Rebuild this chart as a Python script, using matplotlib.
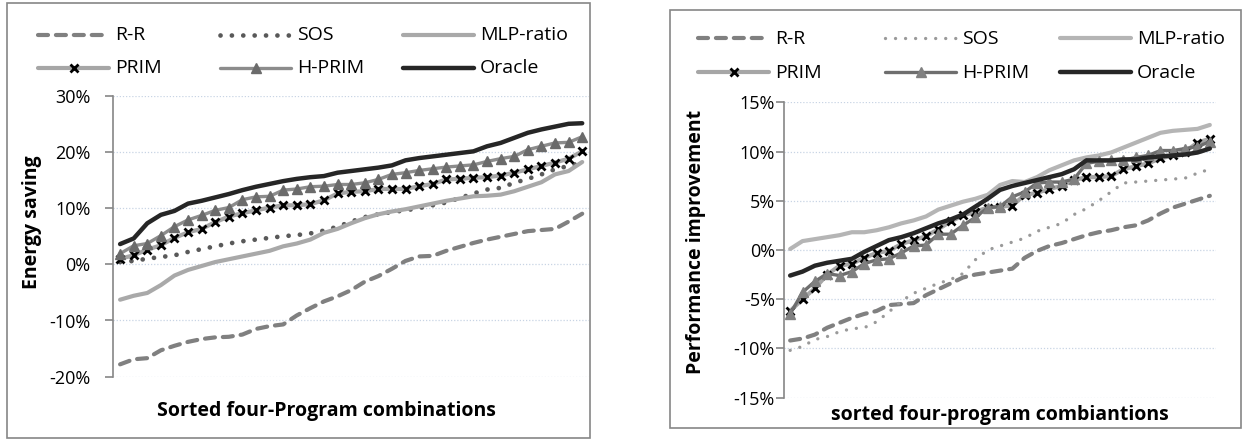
import matplotlib
matplotlib.use("Agg")
import matplotlib.pyplot as plt
from matplotlib.lines import Line2D
from matplotlib.patches import Rectangle
import numpy as np

plt.rcParams['font.family'] = ['Open Sans', 'DejaVu Sans']

# ---------------- data ----------------
series_names = ["R-R", "SOS", "MLP-ratio", "PRIM", "H-PRIM", "Oracle"]

# Left panel: energy saving (%)
rr_e = [-17.8, -16.9, -16.7, -15.3, -14.5, -13.8, -13.3, -13.0, -12.9, -12.5, -11.5, -11.0, -10.7, -9.1, -7.8,
        -6.6, -5.7, -4.6, -3.1, -2.1, -0.8, 0.6, 1.4, 1.5, 2.4, 3.1, 3.8, 4.4, 4.9, 5.4, 5.9, 6.1, 6.3, 7.6, 9.0]
sos_e = [0.4, 0.6, 1.0, 1.3, 1.6, 2.2, 2.7, 3.2, 3.7, 4.1, 4.4, 4.7, 5.0, 5.2, 5.5, 6.0, 6.7, 7.6, 8.4,
         8.9, 9.3, 9.6, 10.0, 10.5, 11.0, 11.8, 12.6, 13.3, 13.6, 14.5, 15.2, 16.0, 16.9, 17.5, 18.1]
mlp_e = [-6.3, -5.6, -5.1, -3.7, -2.0, -1.0, -0.3, 0.4, 0.9, 1.4, 1.9, 2.4, 3.2, 3.7, 4.4, 5.6, 6.3, 7.3, 8.2,
         8.9, 9.4, 9.8, 10.3, 10.8, 11.3, 11.7, 12.1, 12.2, 12.4, 13.0, 13.8, 14.6, 16.0, 16.6, 18.2]
prim_e = [1.0, 1.6, 2.6, 3.4, 4.7, 5.7, 6.3, 7.5, 8.5, 9.1, 9.6, 10.1, 10.5, 10.5, 10.7, 11.4, 12.6, 12.9, 13.0,
          13.4, 13.4, 13.4, 13.9, 14.3, 15.1, 15.2, 15.4, 15.5, 15.8, 16.3, 16.9, 17.5, 18.1, 18.8, 20.1]
hprim_e = [1.9, 3.3, 3.7, 5.1, 6.7, 7.9, 8.7, 9.6, 10.1, 11.5, 12.0, 12.1, 13.2, 13.4, 13.8, 13.9, 14.2, 14.2,
           14.5, 15.1, 16.0, 16.3, 16.7, 17.0, 17.3, 17.5, 17.7, 18.3, 18.8, 19.2, 20.4, 21.0, 21.6, 21.7, 22.7]
oracle_e = [3.6, 4.6, 7.3, 8.8, 9.5, 10.8, 11.3, 11.9, 12.5, 13.2, 13.8, 14.3, 14.8, 15.2, 15.5, 15.7, 16.3,
            16.6, 16.9, 17.2, 17.6, 18.5, 18.9, 19.2, 19.5, 19.8, 20.1, 21.0, 21.6, 22.5, 23.4, 24.0, 24.5, 25.0, 25.1]

# Right panel: performance improvement (%)
rr_p = [-9.2, -9.0, -8.6, -7.9, -7.4, -6.9, -6.5, -6.2, -5.6, -5.5, -5.4, -4.6, -4.0, -3.4, -2.8, -2.5, -2.3,
        -2.1, -1.9, -0.8, -0.1, 0.4, 0.7, 1.1, 1.5, 1.8, 2.0, 2.3, 2.5, 3.0, 3.7, 4.3, 4.7, 5.1, 5.5]
sos_p = [-10.2, -9.8, -9.1, -8.8, -8.3, -8.0, -7.9, -7.3, -6.3, -5.2, -4.4, -3.9, -3.4, -3.0, -2.4, -1.0, 0.0,
         0.4, 0.8, 1.2, 1.9, 2.3, 2.7, 3.6, 4.2, 5.0, 5.9, 6.8, 6.9, 7.0, 7.1, 7.2, 7.3, 7.8, 8.2]
mlp_p = [0.1, 0.9, 1.1, 1.3, 1.5, 1.8, 1.8, 2.0, 2.3, 2.7, 3.0, 3.4, 4.1, 4.5, 4.9, 5.2, 5.6, 6.6, 7.0, 6.9,
         7.4, 8.1, 8.6, 9.1, 9.4, 9.6, 9.9, 10.4, 10.9, 11.4, 11.9, 12.1, 12.2, 12.3, 12.7]
prim_p = [-6.2, -5.0, -3.9, -2.5, -1.6, -1.4, -0.8, -0.3, -0.1, 0.6, 1.0, 1.4, 2.1, 2.9, 3.5, 3.9, 4.3, 4.4,
          4.5, 5.6, 5.8, 6.2, 6.5, 7.1, 7.4, 7.4, 7.5, 8.2, 8.5, 8.8, 9.3, 9.6, 10.0, 10.9, 11.3]
hprim_p = [-6.5, -4.3, -3.2, -2.4, -2.6, -2.2, -1.4, -1.0, -0.9, -0.3, 0.4, 0.5, 1.6, 1.6, 2.5, 3.3, 4.3, 4.4,
           5.4, 5.9, 6.8, 6.9, 6.9, 7.2, 8.8, 9.0, 9.1, 9.1, 9.4, 9.6, 10.1, 10.1, 10.3, 10.5, 11.0]
oracle_p = [-2.6, -2.2, -1.6, -1.3, -1.1, -0.9, -0.2, 0.4, 1.0, 1.3, 1.7, 2.2, 2.7, 3.1, 3.6, 4.4, 5.2, 6.1,
            6.5, 6.8, 7.1, 7.4, 7.7, 8.2, 9.1, 9.1, 9.1, 9.2, 9.2, 9.4, 9.5, 9.6, 9.7, 9.9, 10.3]

left_ticks = [-20, -10, 0, 10, 20, 30]
right_ticks = [-15, -10, -5, 0, 5, 10, 15]
left_ylabel = "Energy saving"
left_xlabel = "Sorted four-Program combinations"
right_ylabel = "Performance improvement"
right_xlabel = "sorted four-program combiantions"

# ---------------- figure ----------------
W, H = 1244, 440
fig = plt.figure(figsize=(W / 100, H / 100), dpi=100)


def fx(px):
    return px / W


def fy(py):
    return 1 - py / H


def styles(side):
    sos_style = dict(color='#595959', lw=3.4, ls=(0, (0.01, 2.4)), dash_capstyle='round') if side == 'L' else \
        dict(color='#9a9a9a', lw=2.4, ls=(0, (0.01, 3.0)), dash_capstyle='round')
    hprim_line = '#8c8c8c' if side == 'L' else '#6e6e6e'
    hprim_mk = '#6b6b6b' if side == 'L' else '#808080'
    return [
        dict(color='#808080', lw=3.0, ls=(0, (2.4, 1.9)), dash_capstyle='round'),
        sos_style,
        dict(color='#a9a9a9' if side == 'L' else '#b5b5b5', lw=3.0, ls='-'),
        dict(color='#a6a6a6', lw=3.0, ls='-', marker='x', ms=6, mec='black', mew=2.0),
        dict(color=hprim_line, lw=2.4, ls='-', marker='^', ms=7, mfc=hprim_mk, mec=hprim_mk),
        dict(color='#262626', lw=3.2, ls='-'),
    ]


def panel(rect_px, ylim, ticks, data, side, tickpad):
    x0, x1, ytop, ybot = rect_px
    ax = fig.add_axes([fx(x0), fy(ybot), fx(x1) - fx(x0), fy(ytop) - fy(ybot)])
    n = len(data[0])
    x = np.arange(n)
    for vals, st in zip(data, styles(side)):
        ax.plot(x, vals, solid_capstyle='round', **st)
    ax.set_xlim(-0.5, n - 0.5)
    ax.set_ylim(*ylim)
    ax.set_yticks(ticks)
    ax.set_yticklabels([f"{t}%" for t in ticks])
    ax.yaxis.grid(True, color='#c8d4e4', lw=0.9, ls=(0, (1, 1.5)))
    ax.set_axisbelow(True)
    for s in ['top', 'right', 'bottom']:
        ax.spines[s].set_visible(False)
    ax.spines['left'].set_color('#868686')
    ax.spines['left'].set_linewidth(1.2)
    ax.set_xticks([])
    ax.tick_params(axis='y', direction='out', length=5.5, width=1.2, color='#868686',
                   labelsize=13, labelcolor='black', pad=tickpad)
    return ax


panel((113.3, 589, 95.7, 376.7), (-20, 30), left_ticks,
      [rr_e, sos_e, mlp_e, prim_e, hprim_e, oracle_e], 'L', 11)
panel((784, 1216, 102.3, 397.6), (-15, 15), right_ticks,
      [rr_p, sos_p, mlp_p, prim_p, hprim_p, oracle_p], 'R', 1)

# axis titles
fig.text(fx(32), fy(222), left_ylabel, rotation=90, ha='center', va='center', fontsize=14, fontweight='bold')
fig.text(fx(326), fy(411), left_xlabel, ha='center', va='center', fontsize=14, fontweight='bold')
fig.text(fx(696), fy(242), right_ylabel, rotation=90, ha='center', va='center', fontsize=14, fontweight='bold')
fig.text(fx(1000), fy(415), right_xlabel, ha='center', va='center', fontsize=14, fontweight='bold')


# legends (drawn manually in a 3 x 2 grid, like the original)
def legend(text_x, rows_y, side):
    st = styles(side)
    for k, (name, s) in enumerate(zip(series_names, st)):
        col, row = k % 3, k // 3
        tx = text_x[col]
        y = rows_y[row]
        xs = [fx(tx - 77), fx(tx - 41.5), fx(tx - 6)]
        ys = [fy(y)] * 3
        s = dict(s)
        ln = Line2D(xs, ys, transform=fig.transFigure, markevery=[1], solid_capstyle='round', **s)
        fig.add_artist(ln)
        fig.text(fx(tx), fy(y), name, ha='left', va='center', fontsize=14)


legend([115, 297, 480], [35, 68], 'L')
legend([775, 962, 1137], [38.5, 72.5], 'R')

# chart borders
fig.add_artist(Rectangle((fx(6.7), fy(438.3)), fx(590) - fx(6.7), fy(3.3) - fy(438.3),
                         transform=fig.transFigure, fill=False, edgecolor='#868686', lw=1.2))
fig.add_artist(Rectangle((fx(670), fy(428)), fx(1241) - fx(670), fy(10) - fy(428),
                         transform=fig.transFigure, fill=False, edgecolor='#868686', lw=1.2))

fig.savefig("out.png", dpi=100)
